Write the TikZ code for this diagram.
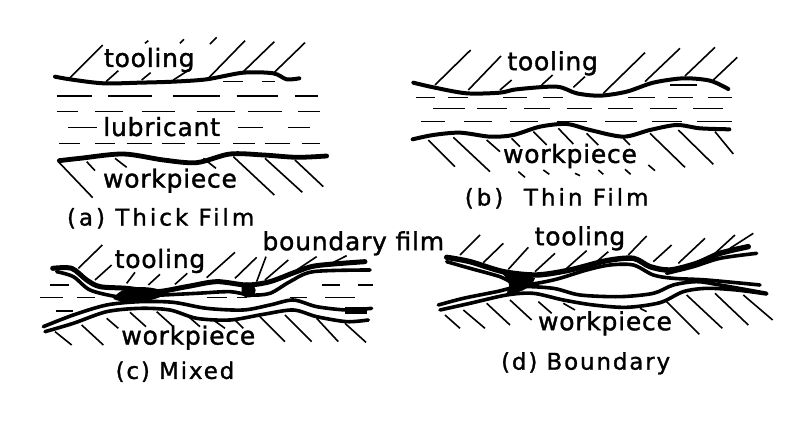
\documentclass[tikz,border=0pt]{standalone}
\usepackage{fontspec}
\newfontfamily\labfont[FakeBold=1.4,LetterSpace=3]{DejaVu Sans}
\newfontfamily\capfont[FakeBold=1.2,LetterSpace=8]{DejaVu Sans}
\newfontfamily\capwidefont[FakeBold=1.2,LetterSpace=13]{DejaVu Sans}
\newcommand{\hatchset}[1]{\foreach \a/\b/\c/\d in {#1}{\draw[hatchline] (\a,\b)--(\c,\d);}}
\newcommand{\dashrow}[2]{\foreach \a/\b in {#2}{\draw[dashline] (\a,#1)--(\b,#1);}}
\tikzset{
 hatchline/.style={line width=1.6pt,black},
 dashline/.style={line width=1.5pt,black},
 film/.style={line width=4pt,line cap=round,line join=round,black},
 filmthin/.style={line width=3.6pt,line cap=round,line join=round,black},
 lab/.style={inner sep=0pt,font=\labfont\fontsize{25}{26}\selectfont},
 captext/.style={inner sep=0pt,font=\capfont\fontsize{23}{24}\selectfont},
 capwide/.style={inner sep=0pt,font=\capwidefont\fontsize{23}{24}\selectfont},
 panela/.style={shift={(30pt,-30pt)},x=0.3333pt,y=-0.3333pt},
 panelb/.style={shift={(400pt,-30pt)},x=0.3333pt,y=-0.3333pt},
 panelc/.style={shift={(30pt,-225pt)},x=0.3333pt,y=-0.3333pt},
 paneld/.style={shift={(420pt,-220pt)},x=0.3333pt,y=-0.3333pt},
}
\begin{document}
\begin{tikzpicture}[x=1pt,y=-1pt]
\useasboundingbox[fill=white] (0,0) rectangle (800,422);
% (a)
\begin{scope}[panela]
\draw[film] plot[smooth] coordinates {(75,140)(120,148)(220,160)(330,158)(430,155)(530,148)(640,128)(730,130)(770,148)(808,145)};
\hatchset{118/145/218/45,228/155/265/122,335/150/362/128,430/150/480/118,345/40/355/32,450/40/462/28,540/42/560/22,535/145/645/32,640/125/733/35,730/130/825/38}
\dashrow{155}{580/640,695/735}
\dashrow{198}{80/185,235/365,430/570,620/745,795/865}
\dashrow{245}{80/145,195/280,335/435,500/615,655/755,805/870}
\dashrow{293}{115/200,625/700,775/840}
\dashrow{340}{88/150,195/255,290/365,395/465,500/570,610/675,705/780,815/870}
\draw[film,line width=4.8pt] plot[smooth] coordinates {(88,392)(150,385)(280,372)(400,390)(500,398)(600,372)(700,375)(800,382)(890,378)};
\hatchset{85/395/188/503,170/395/195/422,255/385/290/412,520/385/558/415,610/380/733/495,705/385/817/487,795/390/880/470}
\node[lab] (ta) at (358,90) {tooling};
\node[lab] (la) at (395,290) {lubricant};
\node[lab] (wa) at (420,452) {workpiece};
\node[capwide] (ca) at (392,565) {(a) Thick Film};
\end{scope}
% (b)
\begin{scope}[panelb]
\draw[film] plot[smooth] coordinates {(40,158)(100,172)(200,190)(300,188)(350,178)(470,170)(530,190)(600,197)(680,185)(760,158)(850,145)(930,152)(985,177)};
\hatchset{105/165/212/60,205/180/303/78,300/180/335/150,425/165/458/135,520/172/555/140,610/190/735/68,735/155/840/55,855/138/945/52,940/150/1012/82}
\dashrow{165}{810/890}
\dashrow{202}{48/105,145/205,310/380,430/490,685/765,805/880,925/995}
\dashrow{235}{100/195,232/322,372/450,500/575,625/700,750/830,880/970}
\dashrow{275}{62/135,192/275,330/415,470/560,615/710,755/845,890/995}
\draw[film] plot[smooth] coordinates {(38,328)(100,315)(180,308)(270,320)(340,315)(420,290)(500,282)(570,300)(670,320)(750,300)(830,285)(900,295)(988,298)};
\hatchset{85/330/165/410,160/322/270/425,260/330/300/365,335/325/360/350,400/305/440/345,475/295/520/342,560/310/595/345,670/325/690/345,750/310/855/412,835/300/940/403,945/305/1000/372,355/425/375/442,430/420/448/433,525/430/540/437,595/420/610/433,675/418/692/433,745/405/765/422}
\node[lab] (tb) at (458,100) {tooling};
\node[lab] (wb) at (510,378) {workpiece};
\node[capwide] (cb) at (470,505) {(b)\ \ Thin Film};
\end{scope}
% (c)
\begin{scope}[panelc]
\draw[filmthin,line width=5pt] plot[smooth] coordinates {(68,130)(125,130)(170,165)(210,185)(290,190)(380,200)(470,185)(560,170)(650,180)(720,170)(800,140)(860,122)(1005,110)};
\draw[filmthin] plot[smooth] coordinates {(80,140)(130,155)(180,195)(260,215)(300,215)(400,210)(500,205)(600,200)(660,210)(720,205)(780,170)(850,140)(1020,135)};
\draw[filmthin] plot[smooth] coordinates {(40,305)(130,270)(230,240)(330,230)(430,232)(530,250)(640,255)(720,240)(790,225)(860,245)(950,255)(1025,250)};
\draw[filmthin] plot[smooth] coordinates {(45,320)(130,295)(230,260)(330,250)(420,255)(500,280)(600,285)(700,268)(790,255)(860,275)(950,290)(1015,285)};
\fill (250,222) .. controls (270,175) and (380,180) .. (410,205) .. controls (380,230) and (290,240) .. (250,222);
\fill (635,178) .. controls (655,165) and (675,178) .. (677,195) .. controls (675,220) and (650,225) .. (635,208) -- cycle;
\fill (945,245) rectangle (1012,268);
\hatchset{145/130/217/60,195/165/245/120,290/175/315/142,355/180/390/148,435/178/472/145,530/158/615/82,615/160/680/97,680/170/708/95,705/165/775/105,800/135/860/95,905/115/950/92}
\dashrow{180}{60/118,875/930,985/1030}
\dashrow{218}{30/100,140/195,530/590,620/650,780/830,885/975}
\dashrow{258}{78/130}
\hatchset{75/320/125/360,155/300/220/360,230/280/265/310,300/262/348/305,380/260/430/305,470/270/510/305,550/285/585/310,615/285/640/310,690/275/765/350,765/270/845/350,860/280/925/350,945/295/1008/352}
\node[lab] (tc) at (390,108) {tooling};
\node[lab,anchor=west] (bf) at (697,55) {boundary\ film};
\node[lab] (wc) at (475,338) {workpiece};
\node[captext] (cc) at (435,440) {(c) Mixed};
\end{scope}
% (d)
\begin{scope}[paneld]
\draw[film,line width=5.4pt] plot[smooth] coordinates {(80,112)(150,125)(250,155)(350,165)(450,150)(560,122)(640,115)(690,140)(750,150)(830,130)(900,100)(985,80)};
\draw[filmthin] plot[smooth] coordinates {(80,125)(150,145)(240,170)(300,195)(400,180)(500,150)(570,135)(640,135)(700,165)(760,175)(860,180)(1020,195)};
\draw[filmthin] plot[smooth] coordinates {(740,160)(820,140)(900,115)(1010,100)};
\draw[filmthin] plot[smooth] coordinates {(55,255)(130,235)(230,215)(300,200)(400,205)(480,225)(600,230)(700,220)(760,195)(830,185)(900,195)(1040,220)};
\draw[filmthin] plot[smooth] coordinates {(60,270)(150,250)(260,225)(340,220)(430,240)(520,255)(620,262)(720,248)(790,215)(860,205)(950,210)(1040,222)};
\fill (245,160) .. controls (280,160) and (330,165) .. (345,175) .. controls (335,205) and (290,225) .. (260,218) .. controls (275,200) and (265,175) .. (245,160);
\hatchset{120/105/180/45,190/128/250/70,265/148/325/82,345/155/405/100,440/145/500/92,530/125/565/95,625/105/680/48,700/125/755/75,775/130/855/55,885/100/945/45,930/85/1000/40}
\hatchset{75/285/120/325,130/270/195/325,200/250/270/315,270/240/335/300,355/245/395/280,430/250/465/270,660/265/680/275,740/245/838/343,800/225/907/325,885/220/985/315,970/225/1058/300}
\node[lab] (td) at (480,55) {tooling};
\node[lab] (wd) at (555,310) {workpiece};
\node[captext] (cd) at (497,430) {(d) Boundary};
\end{scope}
\end{tikzpicture}
\end{document}
